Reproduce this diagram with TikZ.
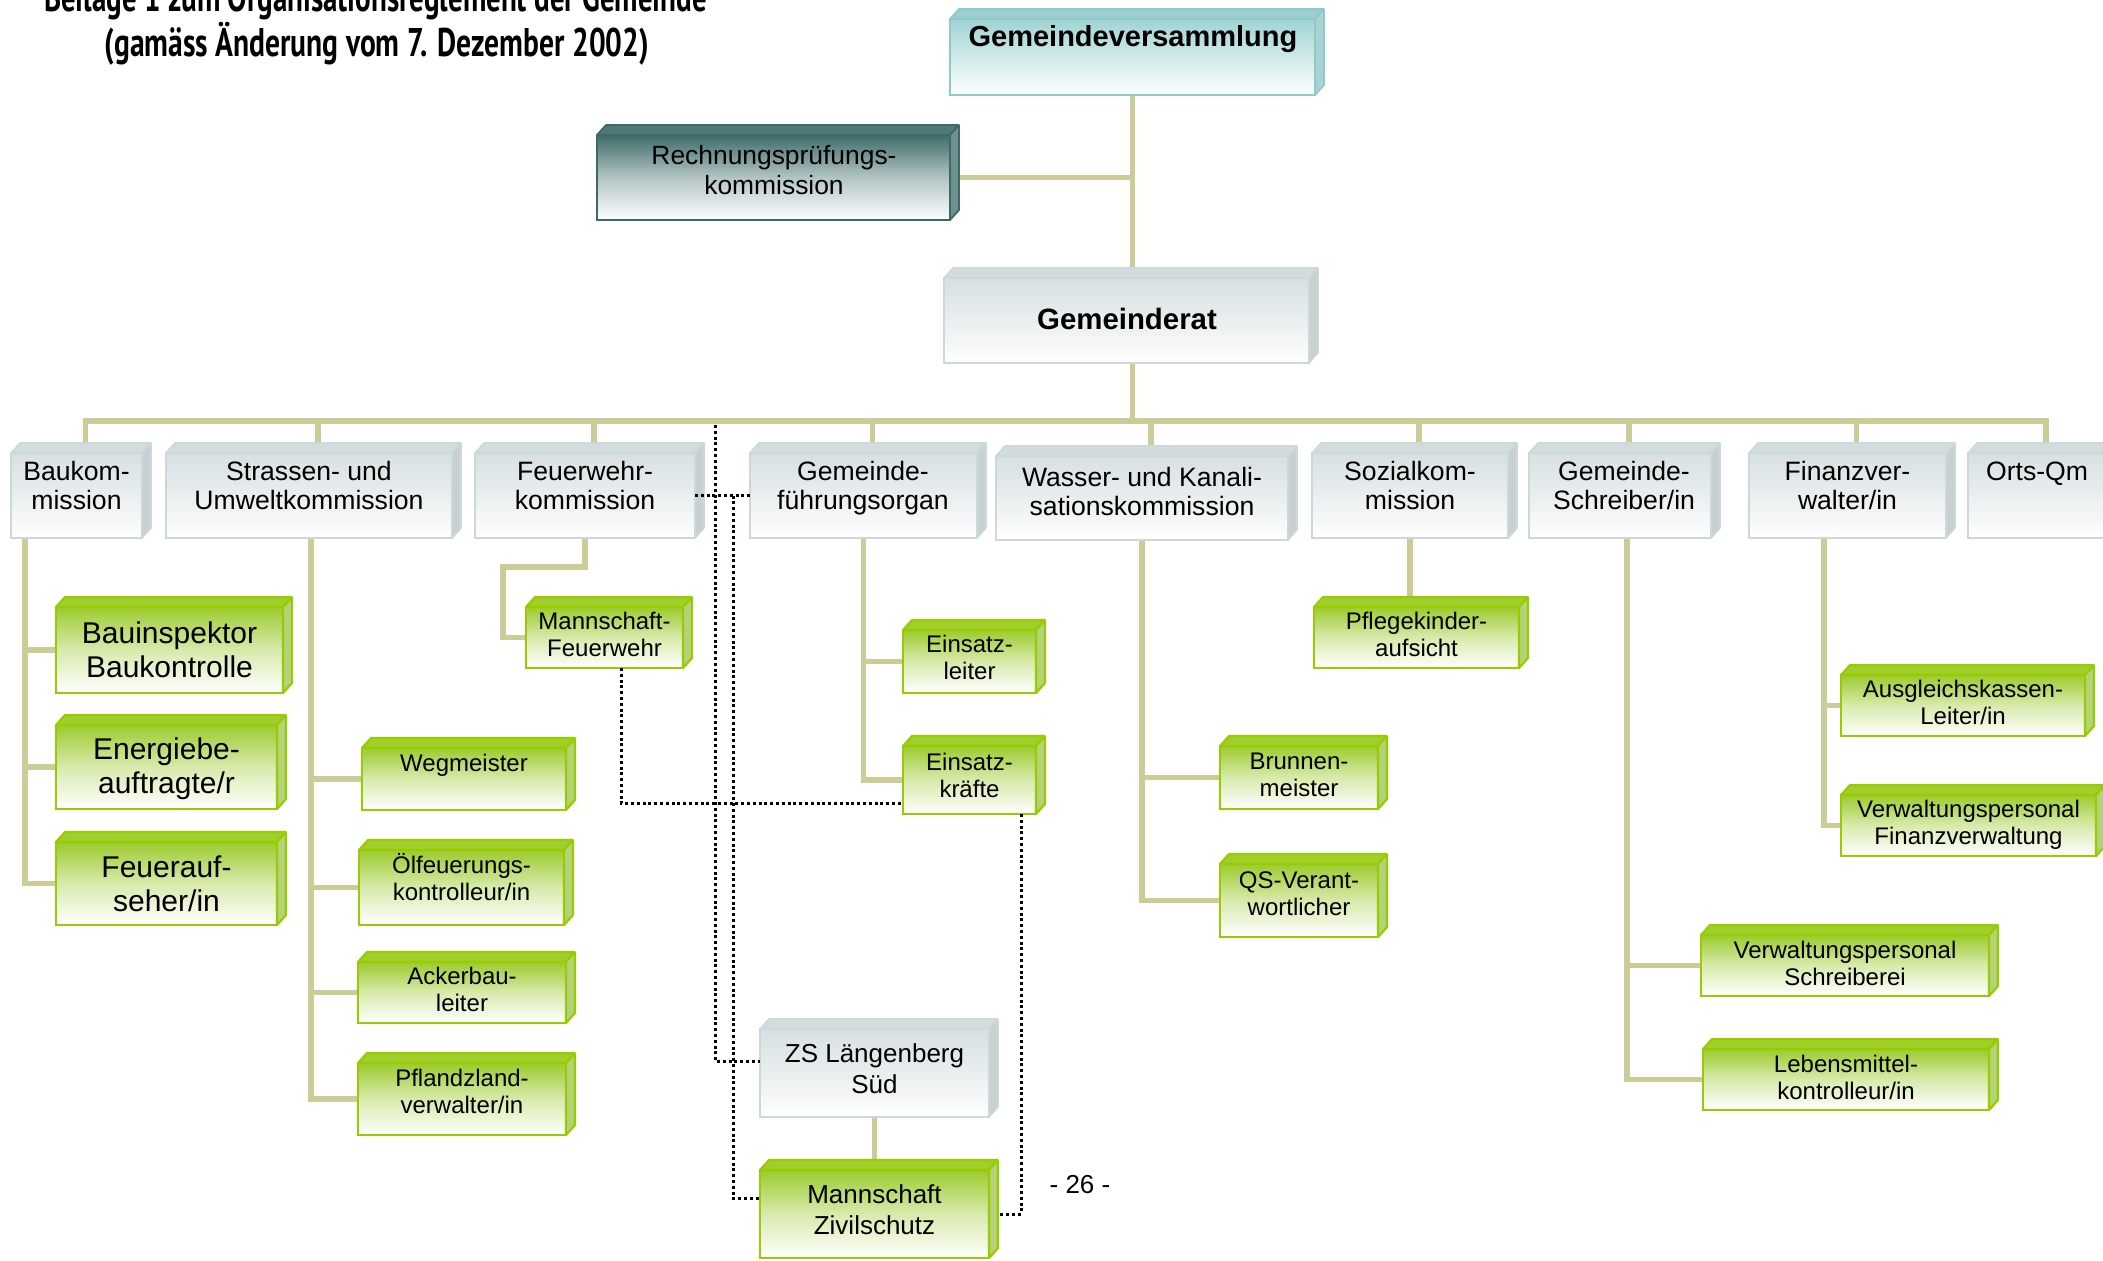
\documentclass[tikz,border=0pt]{standalone}
\usepackage{fontspec}
\setmainfont{Liberation Sans}
\newfontfamily\titlefont{PT Sans}
\usepackage{graphicx}
\usetikzlibrary{backgrounds}

\definecolor{khaki}{HTML}{CCCC99}
% green boxes
\definecolor{gline}{HTML}{99CC00}
\definecolor{gtop}{HTML}{A0CE2A}
\definecolor{gside}{HTML}{B4D27A}
\definecolor{ggrad}{HTML}{9CCB2E}
\colorlet{gmid}{ggrad!40!white}
% grey boxes
\definecolor{wline}{HTML}{CCD9DA}
\definecolor{wtop}{HTML}{D3DCDD}
\definecolor{wside}{HTML}{C8D0D1}
\definecolor{wgrad}{HTML}{D7E0E1}
\colorlet{wmid}{wgrad!55!white}
% teal (Gemeindeversammlung)
\definecolor{tline}{HTML}{8FCACA}
\definecolor{ttop}{HTML}{9BCECD}
\definecolor{tside}{HTML}{A9D2D2}
\definecolor{tgrad}{HTML}{A0D3D3}
\colorlet{tmid}{tgrad!50!white}
% dark teal (Rechnungspruefung)
\definecolor{dline}{HTML}{3D6A69}
\definecolor{dtop}{HTML}{4C7A79}
\definecolor{dside}{HTML}{6E9190}
\definecolor{dgrad}{HTML}{3F6C6B}
\colorlet{dmid}{dgrad!40!white}

\newcommand\fsz[2]{\fontsize{#1}{#2}\selectfont}

\tikzset{
  conn/.style={draw=khaki, line width=2.8pt, line cap=rect},
  dotln/.style={draw=black, line width=1.5pt, dash pattern=on 1.5pt off 1.4pt},
  front/.style={inner sep=0pt, outer sep=0pt, draw=#1line, top color=#1grad, bottom color=white, middle color=#1mid, #1lw},
  glw/.style={line width=1.1pt},
  wlw/.style={line width=0.8pt},
  tlw/.style={line width=0.9pt},
  dlw/.style={line width=0.9pt},
  txt/.style={align=center, inner sep=0pt, text=black, execute at begin node=\strut, execute at end node=\strut},
  l2/.style={txt, font=\fsz{13.3}{14.6}},
  g3/.style={txt, font=\fsz{12}{13.5}},
  g3big/.style={txt, font=\fsz{15}{17}},
}

\newcommand\faces[2]{%
  \filldraw[fill=#2top, draw=#2line, #2lw, line join=bevel] (#1.north west) -- ++(9,-10) -- ([shift={(9,-10)}]#1.north east) -- (#1.north east) -- cycle;
  \filldraw[fill=#2side, draw=#2line, #2lw, line join=bevel] (#1.north east) -- ++(9,-10) -- ([shift={(9,-10)}]#1.south east) -- (#1.south east) -- cycle;
}
\newcommand\obox[6]{%
  \node[front=#1, minimum width={(#5-#3)*0.5pt}, minimum height={(#6-#4)*0.5pt}] (#2) at ({(#3+#5)/2},{(#4+#6)/2}) {};
  \faces{#2}{#1}%
}

\begin{document}
\begin{tikzpicture}[x=0.5pt, y=-0.5pt]
\useasboundingbox (0,0) rectangle (2103,1260);

% title
\node[anchor=base, inner sep=0pt] (title1) at (375.5,11)
  {\resizebox{331.5pt}{\height}{\fsz{20}{20}\titlefont\bfseries Beilage 1 zum Organisationsreglement der Gemeinde}};
\node[anchor=base, inner sep=0pt] (title2) at (377,56)
  {\resizebox{272pt}{\height}{\fsz{20}{20}\titlefont\bfseries (gamäss Änderung vom 7. Dezember 2002)}};

% level 1
\obox{t}{gv}{950}{19}{1315}{95}
\obox{d}{rpk}{597}{135}{950}{220}
\obox{w}{gr}{944}{278}{1309}{363}
\node[txt, font=\fsz{14.5}{16}\bfseries] (gv-t) at (1133,40) {Gemeindeversammlung};
\node[txt, font=\fsz{13.2}{15}] (rpk-t) at (774,174) {Rechnungsprüfungs-\\kommission};
\node[txt, font=\fsz{14.7}{16}\bfseries] (gr-t) at (1127,323) {Gemeinderat};

% level 2
\obox{w}{bauk}{11}{453}{142}{538}
\obox{w}{stras}{166}{453}{452}{538}
\obox{w}{feuer}{475}{453}{695}{538}
\obox{w}{gfo}{750}{453}{977}{538}
\obox{w}{wasser}{996}{456}{1288}{540}
\obox{w}{sozial}{1312}{453}{1508}{538}
\obox{w}{gschr}{1529}{453}{1711}{538}
\obox{w}{finanz}{1749}{453}{1946}{538}
\obox{w}{orts}{1968}{453}{2106}{538}
\node[l2] (bauk-t) at (76.5,490) {Baukom-\\mission};
\node[l2] (stras-t) at (309,490) {Strassen- und\\Umweltkommission};
\node[l2] (feuer-t) at (585,490) {Feuerwehr-\\kommission};
\node[l2] (gfo-t) at (863,490) {Gemeinde-\\führungsorgan};
\node[l2] (wasser-t) at (1142,496) {Wasser- und Kanali-\\sationskommission};
\node[l2] (sozial-t) at (1410,490) {Sozialkom-\\mission};
\node[l2] (gschr-t) at (1624,490) {Gemeinde-\\Schreiber/in};
\node[l2] (finanz-t) at (1847.5,490) {Finanzver-\\walter/in};
\node[l2] (orts-t) at (2037,475) {Orts-Qm};

% level 3 (green)
\obox{g}{bauinsp}{56}{607}{283}{693}
\obox{g}{energie}{56}{725}{277}{809}
\obox{g}{feuerauf}{56}{842}{277}{925}
\obox{g}{wegm}{362}{748}{566}{810}
\obox{g}{oelf}{359}{850}{564}{925}
\obox{g}{acker}{358}{962}{566}{1023}
\obox{g}{pfland}{358}{1063}{566}{1135}
\obox{g}{mannf}{526}{607}{683}{668}
\obox{g}{einl}{903}{630}{1036}{693}
\obox{g}{eink}{903}{746}{1036}{814}
\obox{g}{brunnen}{1220}{746}{1378}{809}
\obox{g}{qs}{1220}{864}{1378}{937}
\obox{g}{pflege}{1314}{607}{1519}{668}
\obox{g}{vwschr}{1701}{935}{1989}{996}
\obox{g}{lebens}{1703}{1049}{1989}{1110}
\obox{g}{ausgl}{1841}{675}{2085}{736}
\obox{g}{vwfin}{1841}{795}{2096}{856}
\obox{w}{zs}{760}{1029}{989}{1117}
\obox{g}{mzs}{760}{1170}{989}{1258}

\node[g3big] (bauinsp-t) at (169.5,655) {Bauinspektor\\Baukontrolle};
\node[g3big] (energie-t) at (166.5,771) {Energiebe-\\auftragte/r};
\node[g3big] (feuerauf-t) at (166.5,889) {Feuerauf-\\seher/in};
\node[g3] (wegm-t) at (464,766) {Wegmeister};
\node[g3] (oelf-t) at (461.5,881) {Ölfeuerungs-\\kontrolleur/in};
\node[g3] (acker-t) at (462,993) {Ackerbau-\\leiter};
\node[g3] (pfland-t) at (462,1095) {Pflandzland-\\verwalter/in};
\node[g3] (mannf-t) at (604.5,638) {Mannschaft-\\Feuerwehr};
\node[g3] (einl-t) at (969.5,661) {Einsatz-\\leiter};
\node[g3] (eink-t) at (969.5,779) {Einsatz-\\kräfte};
\node[g3] (brunnen-t) at (1299,779) {Brunnen-\\meister};
\node[g3] (qs-t) at (1299,898) {QS-Verant-\\wortlicher};
\node[g3] (pflege-t) at (1416.5,638) {Pflegekinder-\\aufsicht};
\node[g3] (vwschr-t) at (1845,967) {Verwaltungspersonal\\Schreiberei};
\node[g3] (lebens-t) at (1846,1081) {Lebensmittel-\\kontrolleur/in};
\node[g3] (ausgl-t) at (1963,706) {Ausgleichskassen-\\Leiter/in};
\node[g3] (vwfin-t) at (1968.5,826) {Verwaltungspersonal\\Finanzverwaltung};
\node[txt, font=\fsz{13}{15.5}] (zs-t) at (874.5,1073) {ZS Längenberg\\Süd};
\node[txt, font=\fsz{13}{15.5}] (mzs-t) at (874.5,1214) {Mannschaft\\Zivilschutz};

\node[txt, font=\fsz{13}{15}] (page) at (1080,1187) {- 26 -};

% solid connectors
\coordinate (bus) at (1132,421);
\begin{pgfonlayer}{background}
  \draw[conn] (gv.south) -- (gv.south |- gr.north);
  \draw[conn] (rpk.east) -- (rpk.east -| gv.south);
  \draw[conn] (gv.south |- gr.south) -- (gv.south |- bus);
  \draw[conn] ([shift={(9,-10)}]bauk.north) -- ([xshift=4.5pt]bauk.north |- bus)
     -- ([xshift=4.5pt]orts.north |- bus) -- ([shift={(9,-10)}]orts.north);
  \foreach \n in {stras,feuer,gfo,wasser,sozial,gschr,finanz}
    \draw[conn] ([shift={(9,-10)}]\n.north) -- ([xshift=4.5pt]\n.north |- bus);
  \foreach \c in {bauinsp,energie,feuerauf}
    \draw[conn] ([xshift=-25.75pt]bauk.south) |- (\c.west);
  \foreach \c in {wegm,oelf,acker,pfland}
    \draw[conn] ([xshift=1pt]stras.south) |- (\c.west);
  \draw[conn] (feuer.south) |- ++(-82,29) |- (mannf.west);
  \foreach \c in {einl,eink}
    \draw[conn] (gfo.south) |- (\c.west);
  \foreach \c in {brunnen,qs}
    \draw[conn] (wasser.south) |- (\c.west);
  \draw[conn] (sozial.south) -- (sozial.south |- pflege.north);
  \foreach \c in {vwschr,lebens}
    \draw[conn] ([xshift=3.5pt]gschr.south) |- (\c.west);
  \foreach \c in {ausgl,vwfin}
    \draw[conn] ([xshift=-11.75pt]finanz.south) |- (\c.west);
  \draw[conn] (zs.south) -- (mzs.north);
\end{pgfonlayer}

% dotted connectors
\coordinate (dA) at (715,425);
\draw[dotln] (dA) |- ([yshift=6pt]zs.west);
\draw[dotln] (feuer.east) -- (gfo.west);
\draw[dotln] ([xshift=19pt]feuer.east) |- ([yshift=8pt]mzs.west);
\draw[dotln] ([xshift=8.25pt]mannf.south) |- ([yshift=-11.5pt]eink.west);
\draw[dotln] ([xshift=25.75pt]eink.south) |- ([xshift=4.5pt]mzs.east);
\end{tikzpicture}
\end{document}
